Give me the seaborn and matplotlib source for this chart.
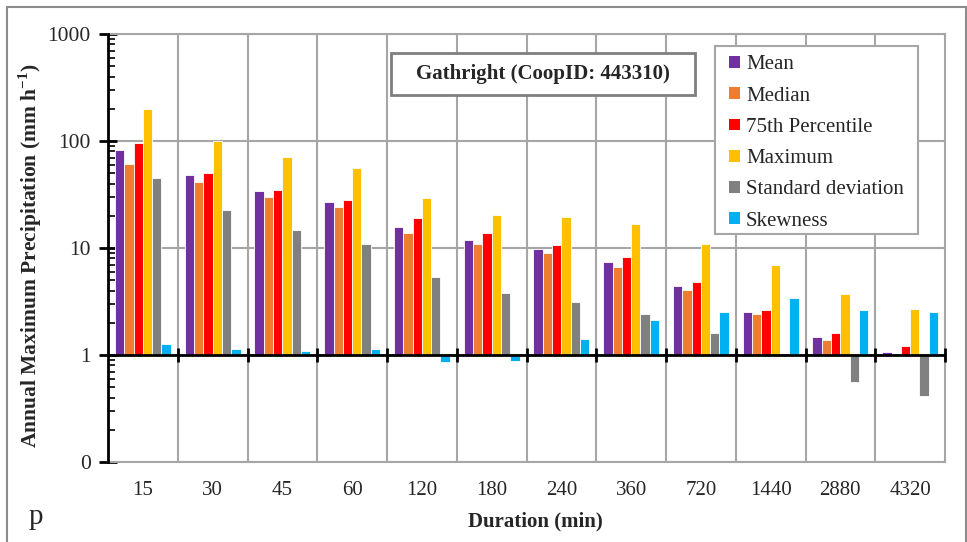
import numpy as np
import pandas as pd
import seaborn as sns
import matplotlib.pyplot as plt
from matplotlib.patches import Rectangle, Patch
from matplotlib.ticker import FixedLocator

sns.set_style("white")
plt.rcParams["font.family"] = ["Liberation Serif", "DejaVu Serif"]
plt.rcParams["mathtext.fontset"] = "stix"

# Annual maximum precipitation statistics per duration (mm h-1; skewness unitless)
durations = ["15", "30", "45", "60", "120", "180", "240", "360", "720", "1440", "2880", "4320"]
mean = [82, 47.8, 34.3, 27.1, 15.7, 11.9, 9.8, 7.4, 4.42, 2.54, 1.48, 1.07]
median = [61, 41.7, 30.2, 24.2, 13.9, 11.0, 9.0, 6.6, 4.08, 2.42, 1.38, 1.0]
pct75 = [95, 50.6, 34.8, 27.9, 18.9, 13.8, 10.7, 8.2, 4.81, 2.63, 1.59, 1.21]
maximum = [198, 99, 70.8, 55.6, 29.1, 20.2, 19.6, 16.6, 10.9, 6.93, 3.71, 2.69]
std_dev = [45, 22.5, 14.8, 10.9, 5.39, 3.77, 3.11, 2.42, 1.61, 0.98, 0.556, 0.417]
skewness = [1.26, 1.13, 1.09, 1.13, 0.866, 0.879, 1.40, 2.14, 2.51, 3.39, 2.63, 2.52]

stat_names = ["Mean", "Median", "75th Percentile", "Maximum", "Standard deviation", "Skewness"]
stat_colors = ["#7030A0", "#ED7D31", "#FF0000", "#FFC000", "#808080", "#00B0F0"]
series = [mean, median, pct75, maximum, std_dev, skewness]

df = pd.DataFrame({
    "Duration": np.tile(durations, len(stat_names)),
    "Statistic": np.repeat(stat_names, len(durations)),
    "Value": np.concatenate([np.asarray(s, dtype=float) for s in series]),
})
# Bars hang from 1 on a logarithmic axis: plot decades, so values below 1 point down
df["LogValue"] = np.log10(df["Value"])

fig = plt.figure(figsize=(9.67, 5.42), dpi=100)
ax = fig.add_axes([108 / 967, 1 - 462 / 542, (945 - 108) / 967, (462 - 34) / 542])

sns.barplot(data=df, x="Duration", y="LogValue", hue="Statistic",
            order=durations, hue_order=stat_names,
            palette=dict(zip(stat_names, stat_colors)), saturation=1,
            width=0.8, edgecolor="white", linewidth=0.6,
            legend=False, ax=ax, zorder=3)

ax.set_xlim(-0.5, len(durations) - 0.5)
ax.set_ylim(-1, 3)

# y axis: decades labelled as values, minor ticks inside
decades = [-1, 0, 1, 2, 3]
ax.set_yticks(decades)
ax.set_yticklabels(["0", "1", "10", "100", "1000"], fontsize=15.5)
minor = [d + np.log10(m) for d in decades[:-1] for m in range(2, 10)]
ax.yaxis.set_minor_locator(FixedLocator(minor))
ax.tick_params(axis="y", which="major", direction="inout", length=13, width=2,
               color="black", pad=6, left=True)
ax.tick_params(axis="y", which="minor", direction="in", length=5, width=1.2,
               color="black", left=True)

# x axis: category labels, grid at category boundaries
ax.tick_params(axis="x", which="both", length=0, labelsize=15, pad=14)
ax.xaxis.set_minor_locator(FixedLocator(np.arange(0.5, len(durations) - 0.5, 1)))
ax.grid(axis="x", which="minor", color="#A6A6A6", linewidth=1.5, zorder=0)
ax.grid(axis="y", which="major", color="#A6A6A6", linewidth=1.5, zorder=0)
ax.set_axisbelow(True)

for side in ["top", "right", "bottom"]:
    ax.spines[side].set_color("#A6A6A6")
    ax.spines[side].set_linewidth(1.5)
ax.spines["left"].set_color("black")
ax.spines["left"].set_linewidth(2)
ax.spines["left"].set_zorder(5)

# horizontal axis crossing at 1, with tick marks at category boundaries
ax.axhline(0, color="black", linewidth=2, zorder=5)
bounds = np.arange(0.5, len(durations), 1)
ax.plot(bounds, np.zeros_like(bounds), linestyle="none", marker="|",
        markersize=10, markeredgewidth=2, color="black", zorder=6, clip_on=False)

ax.set_xlabel("Duration (min)", fontsize=15, fontweight="bold")
ax.xaxis.set_label_coords(0.5 + 9 / 837, (462 - 521) / 428)
ax.xaxis.label.set_va("center")
ax.set_ylabel(r"Annual Maximum Precipitation (mm h$^{\mathregular{-1}}$)",
              fontsize=15.5, fontweight="bold")
ax.yaxis.set_label_coords((44 - 108) / 837, (462 - 255) / 428)

# station title box
ax.add_patch(Rectangle((0.338, 0.857), 0.363, 0.098, transform=ax.transAxes,
                       facecolor="white", edgecolor="#7F7F7F", linewidth=2, zorder=7))
ax.text(0.338 + 0.363 / 2, 0.857 + 0.098 / 2, "Gathright (CoopID: 443310)",
        transform=ax.transAxes, ha="center", va="center",
        fontsize=15, fontweight="bold", zorder=8)

# legend frame drawn separately so its padding can be set freely
ax.add_patch(Rectangle(((715 - 108) / 837, (462 - 234) / 428), 203 / 837, 188 / 428,
                       transform=ax.transAxes, facecolor="white", edgecolor="#A6A6A6",
                       linewidth=1.5, zorder=8))
handles = [Patch(facecolor=c, edgecolor="none") for c in stat_colors]
leg = ax.legend(handles, stat_names, loc="upper left",
                bbox_to_anchor=((721 - 108) / 837, (462 - 47) / 428),
                fontsize=15, frameon=False, handlelength=0.5, handleheight=0.5,
                handletextpad=0.3, labelspacing=0.59, borderpad=0.4, borderaxespad=0)
leg.set_zorder(9)

fig.text(36 / 967, 1 - 517 / 542, "p", fontsize=21, ha="center", va="center")

# outer chart border
fig.add_artist(Rectangle((7 / 967, -0.05), (966 - 7) / 967, 1.05 - 7 / 542,
                         transform=fig.transFigure, fill=False,
                         edgecolor="#8C8C8C", linewidth=1.5))

fig.savefig("out.png", dpi=100)
